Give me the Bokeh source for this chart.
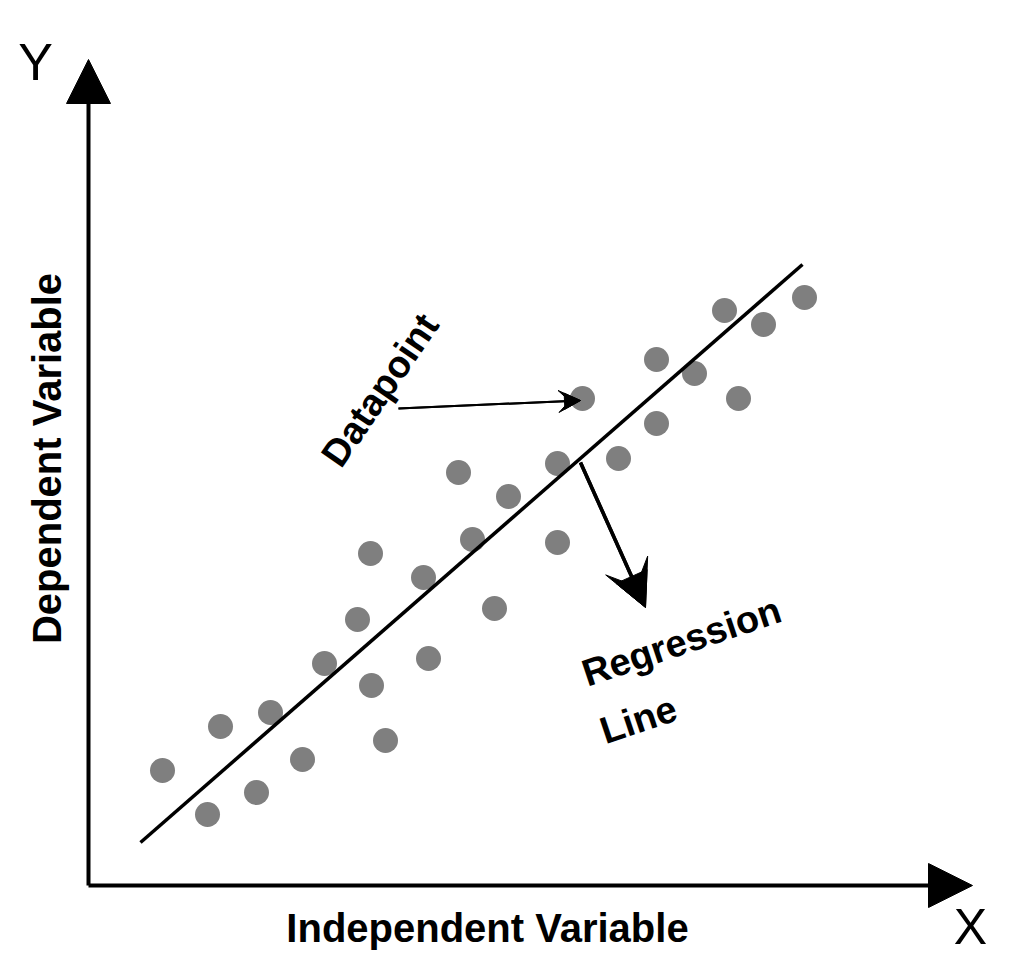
import math
from bokeh.plotting import figure
from bokeh.models import Range1d, Arrow, NormalHead, VeeHead
from bokeh.core.properties import value
from bokeh.embed import file_html
from bokeh.resources import INLINE

# ---- data (arbitrary units, origin at the axes corner) ----
point_x = [7.4, 11.9, 13.2, 16.8, 18.2, 21.4, 23.6, 26.9, 28.3, 28.2, 29.7, 33.5, 34.0, 37.0,
           38.4, 40.6, 42.0, 46.9, 46.9, 49.4, 53.0, 56.8, 56.8, 60.6, 63.6, 65.0, 67.5, 71.6]
point_y = [11.5, 7.1, 15.9, 9.3, 17.3, 12.6, 22.2, 26.6, 20.0, 33.2, 14.5, 30.8, 22.7, 41.3,
           34.6, 27.7, 38.9, 34.3, 42.2, 48.7, 42.7, 52.6, 46.2, 51.2, 57.5, 48.7, 56.1, 58.8]

line_x = [5.2, 71.4]
line_y = [4.3, 62.1]

axis_x_end = 88.4
axis_y_end = 82.6

x_label = "Independent Variable"
y_label = "Dependent Variable"
point_label = "Datapoint"
line_label = ["Regression", "Line"]

W, H = 1016, 958
p = figure(width=W, height=H, output_backend="svg", toolbar_location=None,
           x_range=Range1d(-8.8, 92.8), y_range=Range1d(-7.3, 88.5),
           min_border=0, min_border_left=0, min_border_right=0,
           min_border_top=0, min_border_bottom=0)
p.axis.visible = False
p.grid.visible = False
p.outline_line_color = None
p.background_fill_color = "white"
p.border_fill_color = "white"

# data points
p.scatter(point_x, point_y, size=25, fill_color="#7f7f7f", line_color=None)

# regression line
p.line(line_x, line_y, line_color="black", line_width=3.5)

# axes as arrows
p.add_layout(Arrow(x_start=0, y_start=0, x_end=0, y_end=axis_y_end, line_width=4,
                   line_color="black",
                   end=NormalHead(size=44, fill_color="black", line_color="black")))
p.add_layout(Arrow(x_start=0, y_start=0, x_end=axis_x_end, y_end=0, line_width=4,
                   line_color="black",
                   end=NormalHead(size=44, fill_color="black", line_color="black")))

# annotation arrows (stealth-like heads: vee + smaller triangle)
dp_start = (31.0, 47.7)
dp_end = (point_x[19] - 0.2, point_y[19] - 0.2)
for head in (VeeHead(size=22, fill_color="black", line_color="black"),
             NormalHead(size=16, fill_color="black", line_color="black")):
    p.add_layout(Arrow(x_start=dp_start[0], y_start=dp_start[1], x_end=dp_end[0], y_end=dp_end[1],
                       line_width=2, line_color="black", end=head))

rl_start = (49.2, 42.3)
rl_end = (55.7, 27.8)
for head in (VeeHead(size=46, fill_color="black", line_color="black"),
             NormalHead(size=34, fill_color="black", line_color="black")):
    p.add_layout(Arrow(x_start=rl_start[0], y_start=rl_start[1], x_end=rl_end[0], y_end=rl_end[1],
                       line_width=3.5, line_color="black", end=head))

bold = value("Liberation Sans")

# axis titles
p.text(x=[39.9], y=[-4.2], text=[x_label], text_font=bold, text_font_style="bold",
       text_font_size="40px", text_align="center", text_baseline="alphabetic", text_color="black")
p.text(x=[-4.2], y=[42.7], text=[y_label], angle=math.pi / 2, text_font=bold,
       text_font_style="bold", text_font_size="40px", text_align="center",
       text_baseline="alphabetic", text_color="black")

# Y and X letters
p.text(x=[-5.3], y=[82.4], text=["Y"], text_font=value("Liberation Sans"),
       text_font_size="52px", text_align="center", text_baseline="alphabetic", text_color="black")
p.text(x=[88.2], y=[-4.1], text=["X"], text_font=value("Liberation Sans"),
       text_font_size="50px", text_align="center", text_baseline="alphabetic", text_color="black")

# annotation labels
p.text(x=[29.15], y=[49.55], text=[point_label], angle=math.radians(55.5), text_font=bold,
       text_font_style="bold", text_font_size="38px", text_align="center",
       text_baseline="alphabetic", text_color="black")
p.text(x=[59.3, 55.0], y=[24.4, 16.6], text=line_label, angle=math.radians(18.5), text_font=bold,
       text_font_style="bold", text_font_size="38px", text_align="center",
       text_baseline="alphabetic", text_color="black")

open("out.html", "w").write(file_html(p, INLINE))
